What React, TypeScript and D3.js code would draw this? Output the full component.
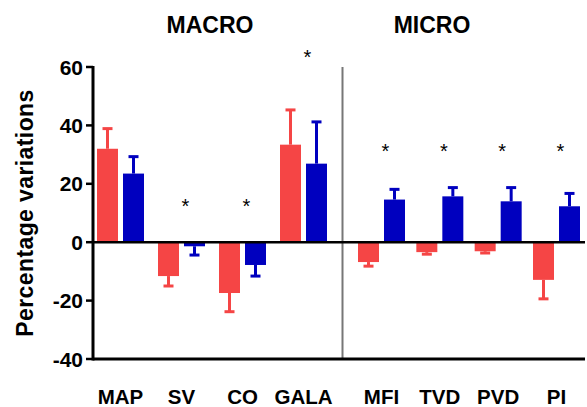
import React from 'react';
import * as d3 from 'd3';

const macroCats = ['MAP', 'SV', 'CO', 'GALA'];
const microCats = ['MFI', 'TVD', 'PVD', 'PI'];
const redMean = [32, -11.6, -17.4, 33.4, -6.8, -3.4, -3.1, -12.9];
const redErr = [6.9, 3.4, 6.4, 11.9, 1.4, 0.7, 0.6, 6.5];
const blueMean = [23.5, -1.4, -7.8, 26.9, 14.6, 15.7, 14.0, 12.3];
const blueErr = [5.8, 3.0, 3.8, 14.3, 3.5, 3.0, 4.7, 4.4];
const starAt = [null, 13, 13, 64, 32, 32, 32, 32];
const yTicks = [-40, -20, 0, 20, 40, 60];

const W = 587;
const H = 407;
const RED = '#f54545';
const BLUE = '#0000bf';
const FONT = '"Liberation Sans", Arial, sans-serif';

export default function App() {
  const y = d3.scaleLinear().domain([-40, 60]).range([359, 67]);
  const axisX = 93;
  const rightX = 585;
  const bandW = 47;

  const macroX = d3.scaleBand<string>().domain(macroCats).range([97, 327]).paddingInner(14 / 61);
  const microStep = (580 - 358 - bandW) / 3;
  const microX = d3.scaleBand<string>().domain(microCats).range([358, 580]).paddingInner(1 - bandW / microStep);
  const inner = d3.scaleBand<string>().domain(['red', 'blue']).range([0, bandW]).paddingInner(5 / 26);

  const cats = [...macroCats, ...microCats];
  const groupX = (c: string, i: number) => (i < 4 ? macroX(c)! : microX(c)!);
  const dividerX = (macroX('GALA')! + bandW + microX('MFI')!) / 2;

  const bar = (c: string, i: number, s: string, v: number, e: number, color: string) => {
    const x0 = groupX(c, i) + inner(s)!;
    const bw = inner.bandwidth();
    const cx = x0 + bw / 2;
    const yv = y(v);
    const ye = y(v + Math.sign(v) * e);
    return (
      <g key={c + s}>
        <line x1={cx} x2={cx} y1={yv} y2={ye} stroke={color} strokeWidth={3} />
        <line x1={cx - 5} x2={cx + 5} y1={ye} y2={ye} stroke={color} strokeWidth={3} />
        <rect x={x0} width={bw} y={Math.min(yv, y(0))} height={Math.abs(yv - y(0))} fill={color} />
      </g>
    );
  };

  return (
    <svg width={W} height={H} style={{ position: 'absolute', left: 0, top: 0, background: '#fff' }} fontFamily={FONT}>
      <text x={210} y={33} textAnchor="middle" fontSize={23} fontWeight="bold">MACRO</text>
      <text x={432} y={33} textAnchor="middle" fontSize={23} fontWeight="bold">MICRO</text>
      <text transform={`translate(33,${(y(60) + y(-40)) / 2}) rotate(-90)`} textAnchor="middle" fontSize={23} fontWeight="bold" letterSpacing={0.4}>
        Percentage variations
      </text>

      {cats.map((c, i) => bar(c, i, 'red', redMean[i], redErr[i], RED))}
      {cats.map((c, i) => bar(c, i, 'blue', blueMean[i], blueErr[i], BLUE))}

      <line x1={dividerX} x2={dividerX} y1={y(60)} y2={y(-40)} stroke="#777" strokeWidth={2} />
      <line x1={axisX} x2={rightX} y1={y(0)} y2={y(0)} stroke="#000" strokeWidth={2.5} />
      <line x1={axisX} x2={rightX} y1={y(-40)} y2={y(-40)} stroke="#000" strokeWidth={3} />
      <line x1={axisX} x2={axisX} y1={y(60) - 1} y2={y(-40) + 1.5} stroke="#000" strokeWidth={3} />
      {yTicks.map((t) => (
        <g key={t}>
          <line x1={axisX - 7} x2={axisX} y1={y(t)} y2={y(t)} stroke="#000" strokeWidth={2.5} />
          <text x={axisX - 10} y={y(t)} dy="0.36em" textAnchor="end" fontSize={21} fontWeight="bold">{t}</text>
        </g>
      ))}

      {cats.map((c, i) => (
        <text key={c} x={groupX(c, i) + bandW / 2} y={404} textAnchor="middle" fontSize={20.5} fontWeight="bold">{c}</text>
      ))}
      {cats.map((c, i) =>
        starAt[i] == null ? null : (
          <text key={'s' + c} x={groupX(c, i) + bandW / 2 + 4} y={y(starAt[i] as number) + 9} textAnchor="middle" fontSize={20}>*</text>
        )
      )}
    </svg>
  );
}
